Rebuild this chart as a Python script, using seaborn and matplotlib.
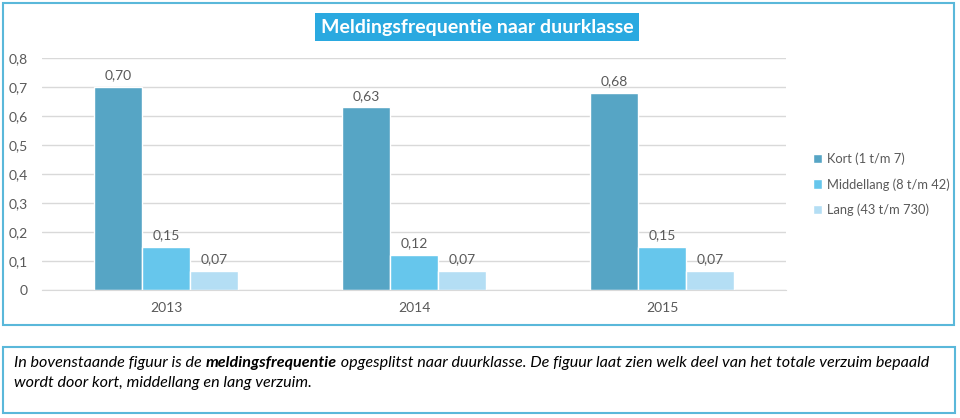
import matplotlib.pyplot as plt
import matplotlib.patches as mpatches
import pandas as pd
import seaborn as sns

jaren = ["2013", "2014", "2015"]
kort = [0.70, 0.63, 0.68]
middellang = [0.15, 0.12, 0.15]
lang = [0.066, 0.066, 0.067]
klassen = ["Kort (1 t/m 7)", "Middellang (8 t/m 42)", "Lang (43 t/m 730)"]
kleuren = ["#56a5c5", "#66c6ec", "#b4def4"]

df = pd.DataFrame({
    "jaar": jaren * 3,
    "waarde": kort + middellang + lang,
    "klasse": [klassen[0]] * 3 + [klassen[1]] * 3 + [klassen[2]] * 3,
})

sns.set_style("white")
plt.rcParams["font.family"] = ["Lato", "DejaVu Sans"]
grijs = "#595959"

fig = plt.figure(figsize=(9.6, 4.18), dpi=100)
ax = fig.add_axes([42 / 960, 1 - 290 / 418, (786 - 42) / 960, (290 - 58) / 418])

sns.barplot(
    data=df, x="jaar", y="waarde", hue="klasse",
    palette=kleuren, width=0.58, saturation=1, ax=ax, legend=True
)

ax.set_xlim(-0.5, 2.5)
ax.set_ylim(0, 0.8)
ax.set_yticks([i / 10 for i in range(9)])
ax.set_yticklabels(["0"] + [f"0,{i}" for i in range(1, 9)])
ax.set_xlabel("")
ax.set_ylabel("")
ax.tick_params(axis="both", colors=grijs, labelsize=10, length=0)
ax.tick_params(axis="y", pad=10)
ax.tick_params(axis="x", pad=9)
ax.yaxis.grid(True, color="#d9d9d9", linewidth=1)
ax.set_axisbelow(True)
for s in ["top", "right", "left"]:
    ax.spines[s].set_visible(False)
ax.spines["bottom"].set_color("#d9d9d9")

for cont in ax.containers:
    labels = [f"{b.get_height():.2f}".replace(".", ",") for b in cont]
    ax.bar_label(cont, labels=labels, padding=4, color=grijs, fontsize=10)

ax.legend(
    loc="upper left", bbox_to_anchor=(801 / 960, 1 - 141 / 418),
    bbox_transform=fig.transFigure, frameon=False, fontsize=9.3,
    handlelength=0.75, handleheight=0.75, handletextpad=0.4,
    labelspacing=1.0, labelcolor=grijs,
)

fig.text(
    477 / 960, 1 - 27 / 418, "Meldingsfrequentie naar duurklasse",
    ha="center", va="center", color="white", fontsize=14, fontweight="bold",
    bbox=dict(facecolor="#2aa9e0", edgecolor="none", pad=4),
)

rand = "#5ab8da"
fig.patches.append(mpatches.Rectangle(
    (3 / 960, 1 - 325 / 418), 951 / 960, 322 / 418,
    transform=fig.transFigure, fill=False, edgecolor=rand, linewidth=1.5))
fig.patches.append(mpatches.Rectangle(
    (3 / 960, 1 - 413 / 418), 952 / 960, 66 / 418,
    transform=fig.transFigure, fill=False, edgecolor=rand, linewidth=1.5))

# onderschrift, stuk voor stuk zodat het vetgedrukte deel mee kan
tekst = dict(fontsize=11.6, style="italic", color="black", va="baseline")
t1 = fig.text(14 / 960, 1 - 367 / 418, "In bovenstaande figuur is de ", ha="left", **tekst)
t2 = fig.text(0, 0, "meldingsfrequentie", ha="left", fontweight="bold", **tekst)
t3 = fig.text(0, 0, " opgesplitst naar duurklasse. De figuur laat zien welk deel "
              "van het totale verzuim bepaald", ha="left", **tekst)
fig.canvas.draw()
r = fig.canvas.get_renderer()
x = t1.get_window_extent(r).x1
t2.set_position((x / 960, 1 - 367 / 418))
x = t2.get_window_extent(r).x1
t3.set_position((x / 960, 1 - 367 / 418))
fig.text(14 / 960, 1 - 387 / 418, "wordt door kort, middellang en lang verzuim.",
         ha="left", **tekst)

fig.savefig("out.png", dpi=100)
